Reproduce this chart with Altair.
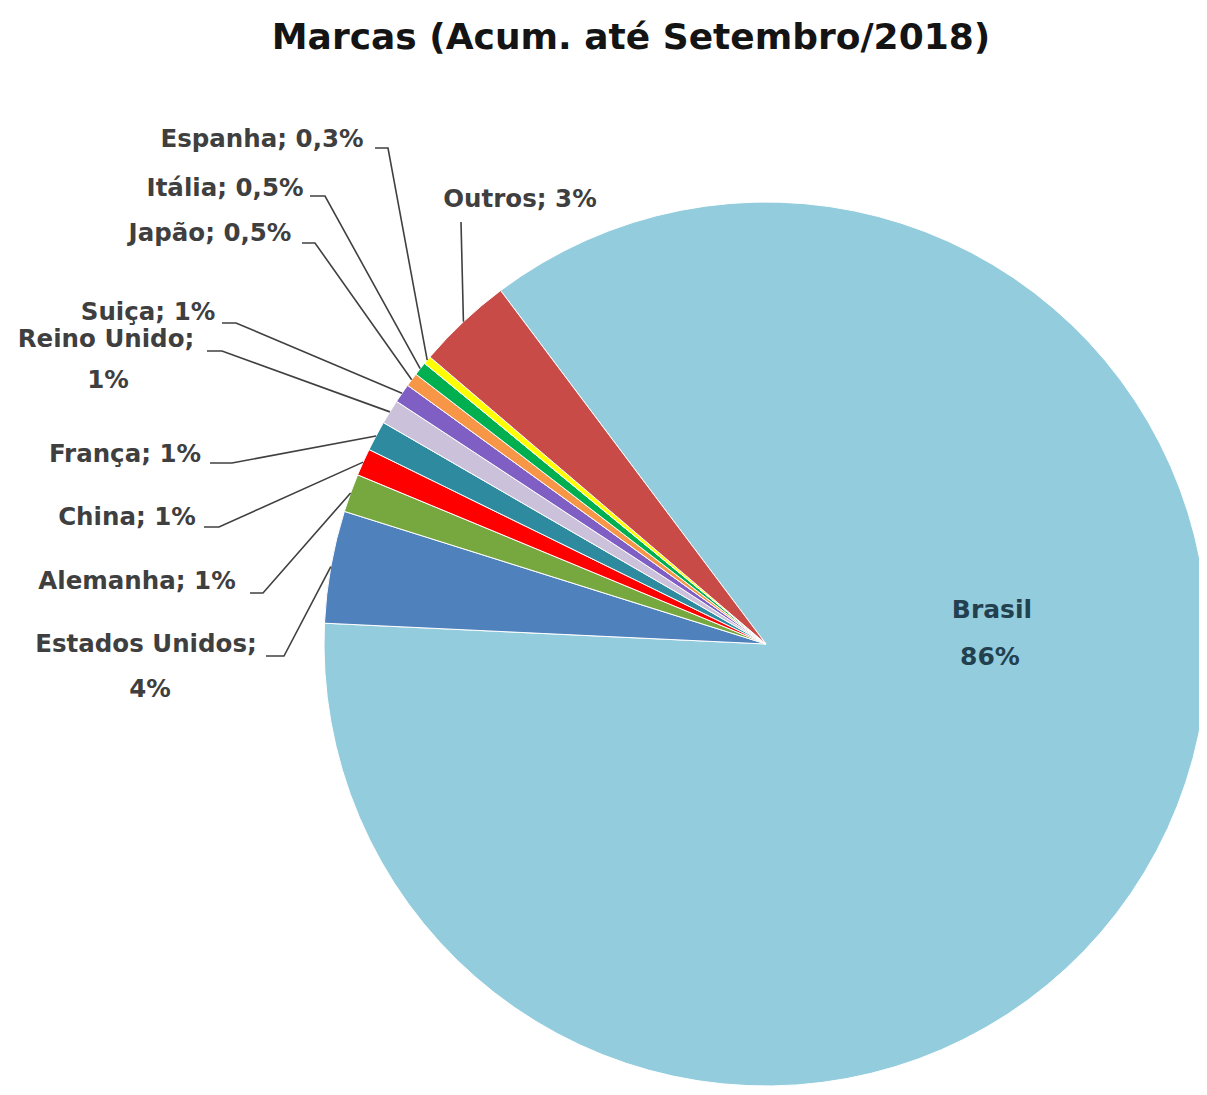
import math
import numpy as np
import pandas as pd
import altair as alt

# ---------------- data ----------------
categories = ["Brasil", "Estados Unidos", "Alemanha", "China", "França",
              "Reino Unido", "Suiça", "Japão", "Itália", "Espanha", "Outros"]
values = [86.0, 4.1, 1.4, 1.0, 1.1, 0.9, 0.7, 0.5, 0.5, 0.3, 3.5]
pct_labels = ["86%", "4%", "1%", "1%", "1%", "1%", "1%", "0,5%", "0,5%", "0,3%", "3%"]
colors = ["#93CDDD", "#4F81BD", "#77A83F", "#FF0000", "#2E8A9E", "#CCC1DA",
          "#7F5FC4", "#F79646", "#00B050", "#FFFF00", "#C94B48"]
title_text = "Marcas (Acum. até Setembro/2018)"

# ---------------- layout ----------------
W, H = 1191, 1079          # plot area (page margin 8px)
CX, CY, R = 766, 644, 442  # pie centre / radius in page pixels
START_DEG = -36.9          # where the first slice (Brasil) begins

# label text lines: (category, line text, centre x, centre y)
label_lines = [
    ("Brasil", "Brasil", 992, 610), ("Brasil", "86%", 990, 657),
    ("Estados Unidos", "Estados Unidos;", 146, 645), ("Estados Unidos", "4%", 150, 690),
    ("Alemanha", "Alemanha; 1%", 137, 582),
    ("China", "China; 1%", 127, 518),
    ("França", "França; 1%", 125, 455),
    ("Reino Unido", "Reino Unido;", 106, 340), ("Reino Unido", "1%", 108, 381),
    ("Suiça", "Suiça; 1%", 148, 313),
    ("Japão", "Japão; 0,5%", 210, 234),
    ("Itália", "Itália; 0,5%", 225, 189),
    ("Espanha", "Espanha; 0,3%", 262, 140),
    ("Outros", "Outros; 3%", 520, 200),
]
# leader line start: category -> (x0, x1, y)
leader_start = {
    "Estados Unidos": (266, 284, 656),
    "Alemanha": (250, 263, 593),
    "China": (204, 219, 527),
    "França": (210, 232, 463),
    "Reino Unido": (207, 222, 351),
    "Suiça": (222, 236, 323),
    "Japão": (302, 315, 243),
    "Itália": (310, 325, 196),
    "Espanha": (375, 388, 148),
    "Outros": (461, 461, 222),
}

# ---------------- tables ----------------
df = pd.DataFrame({"cat": categories, "value": values, "idx": range(len(values))})

total = float(np.sum(values))
ends = np.cumsum(values) / total * 360.0
starts = ends - np.array(values) / total * 360.0
mids = START_DEG + (starts + ends) / 2.0

rows = []
for i, c in enumerate(categories):
    if c not in leader_start:
        continue
    x0, x1, y0 = leader_start[c]
    a = math.radians(mids[i])
    px = CX + R * math.sin(a)
    py = CY - R * math.cos(a)
    rows += [
        {"key": c, "o": 0, "x": x0, "y": y0},
        {"key": c, "o": 1, "x": x1, "y": y0},
        {"key": c, "o": 2, "x": px, "y": py},
    ]
lines_df = pd.DataFrame(rows)

text_df = pd.DataFrame(label_lines, columns=["cat", "text", "x", "y"])
text_df["brasil"] = text_df["cat"] == "Brasil"

xs = alt.Scale(domain=[8, 8 + W], nice=False, zero=False)
ys = alt.Scale(domain=[8 + H, 8], nice=False, zero=False)

start_rad = math.radians(START_DEG)
pie = alt.Chart(df).mark_arc(outerRadius=R, stroke="white", strokeWidth=1).encode(
    theta=alt.Theta("value:Q", stack=True,
                    scale=alt.Scale(range=[start_rad, start_rad + 2 * math.pi])),
    order=alt.Order("idx:Q", sort="ascending"),
    color=alt.Color("cat:N", scale=alt.Scale(domain=categories, range=colors), legend=None),
    x=alt.value(CX - 8),
    y=alt.value(CY - 8),
)

leaders = alt.Chart(lines_df).mark_line(color="#404040", strokeWidth=1.6).encode(
    x=alt.X("x:Q", scale=xs, axis=None),
    y=alt.Y("y:Q", scale=ys, axis=None),
    detail="key:N",
    order="o:Q",
)

labels = alt.Chart(text_df[~text_df["brasil"]]).mark_text(
    font="DejaVu Sans", fontWeight="bold", fontSize=24.5, color="#3F3F3F",
    align="center", baseline="middle",
).encode(
    x=alt.X("x:Q", scale=xs, axis=None),
    y=alt.Y("y:Q", scale=ys, axis=None),
    text="text:N",
)

brasil_label = alt.Chart(text_df[text_df["brasil"]]).mark_text(
    font="DejaVu Sans", fontWeight="bold", fontSize=25, color="#23404F",
    align="center", baseline="middle",
).encode(
    x=alt.X("x:Q", scale=xs, axis=None),
    y=alt.Y("y:Q", scale=ys, axis=None),
    text="text:N",
)

title = alt.Chart(pd.DataFrame({"t": [title_text], "x": [631], "y": [38]})).mark_text(
    font="DejaVu Sans", fontWeight="bold", fontSize=36, color="#141414",
    align="center", baseline="middle",
).encode(
    x=alt.X("x:Q", scale=xs, axis=None),
    y=alt.Y("y:Q", scale=ys, axis=None),
    text="t:N",
)

chart = alt.layer(pie, leaders, labels, brasil_label, title).properties(
    width=W, height=H, padding=0,
    autosize=alt.AutoSizeParams(type="none"),
    background="white",
).configure_view(stroke=None)

chart.save("out.html", embed_options={"renderer": "svg", "actions": False})
